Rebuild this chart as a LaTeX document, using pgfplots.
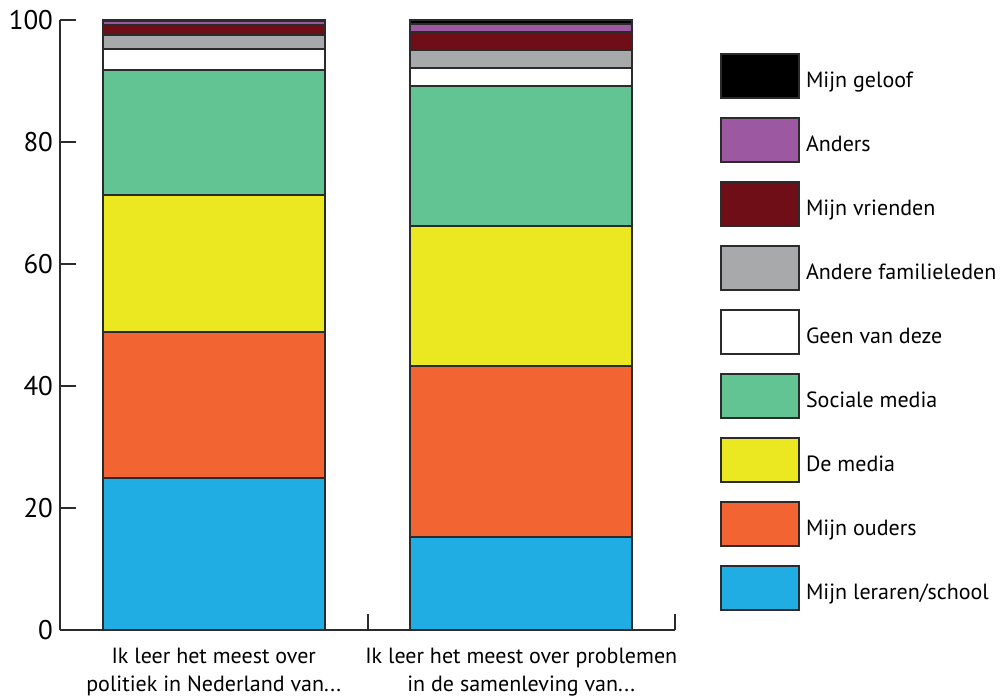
\documentclass[border=0pt]{standalone}
\usepackage{pgfplots}
\pgfplotsset{compat=1.18}
\usepackage{fontspec}
\setmainfont{PT Sans}
\newcommand\tdots{...}
\newcommand\lgt[1]{\raisebox{-2.5pt}[\height][\depth]{#1}}
\definecolor{cBlue}{HTML}{1FADE4}
\definecolor{cOrange}{HTML}{F26532}
\definecolor{cYellow}{HTML}{EBE822}
\definecolor{cGreen}{HTML}{62C393}
\definecolor{cGray}{HTML}{A7A9AA}
\definecolor{cRed}{HTML}{6F0E16}
\definecolor{cPurple}{HTML}{9C58A1}
\definecolor{cEdge}{HTML}{2B2B2B}
\pgfplotsset{
  mybar/.style={fill=#1, draw=cEdge, line width=1pt,
    legend image code/.code={\draw[##1, line width=1pt] (0pt,-11pt) rectangle (39pt,11pt);}},
}
\begin{document}
\begin{tikzpicture}[x=1pt,y=1pt]
\useasboundingbox (0,0) rectangle (502,349.5);
\begin{axis}[
  at={(30pt,34.5pt)}, anchor=south west,
  scale only axis, width=307.5pt, height=305pt,
  ybar stacked, bar width=111pt,
  xmin=-0.5, xmax=1.5, ymin=0, ymax=100,
  xtick={-0.5,0.5,1.5},
  xticklabels={{Ik leer het meest over\\politiek in Nederland van\tdots},{Ik leer het meest over problemen\\in de samenleving van\tdots}},
  x tick label as interval,
  xticklabel style={align=center, font=\fontsize{11}{13.8}\selectfont, yshift=-5.5pt},
  ytick={0,20,40,60,80,100},
  yticklabel style={font=\fontsize{13.5}{15}\selectfont},
  /pgf/number format/assume math mode=true,
  tick align=inside, major tick length=8pt,
  xtick pos=bottom, ytick pos=left,
  axis x line*=bottom, axis y line*=left,
  axis line style={line width=1pt, cEdge, -},
  tick style={line width=1pt, cEdge},
  reverse legend,
  legend style={draw=none, fill=none, inner sep=0pt, outer sep=0pt,
    at={(1.0732,0.9459)}, anchor=north west, row sep=9pt,
    font=\fontsize{11}{13}\selectfont, cells={anchor=west},
    /tikz/every odd column/.append style={column sep=1pt}},
]
\addplot[mybar=cBlue] coordinates {(0,24.9) (1,15.3)};
\addplot[mybar=cOrange] coordinates {(0,23.9) (1,28.0)};
\addplot[mybar=cYellow] coordinates {(0,22.5) (1,22.9)};
\addplot[mybar=cGreen] coordinates {(0,20.5) (1,23.0)};
\addplot[mybar=white] coordinates {(0,3.4) (1,3.0)};
\addplot[mybar=cGray] coordinates {(0,2.3) (1,2.9)};
\addplot[mybar=cRed] coordinates {(0,1.6) (1,3.0)};
\addplot[mybar=cPurple] coordinates {(0,0.7) (1,1.3)};
\addplot[mybar=black] coordinates {(0,0.2) (1,0.6)};
\legend{\lgt{Mijn leraren/school}, \lgt{Mijn ouders}, \lgt{De media}, \lgt{Sociale media}, \lgt{Geen van deze}, \lgt{Andere familieleden}, \lgt{Mijn vrienden}, \lgt{Anders}, \lgt{Mijn geloof}}
\end{axis}
\end{tikzpicture}
\end{document}
